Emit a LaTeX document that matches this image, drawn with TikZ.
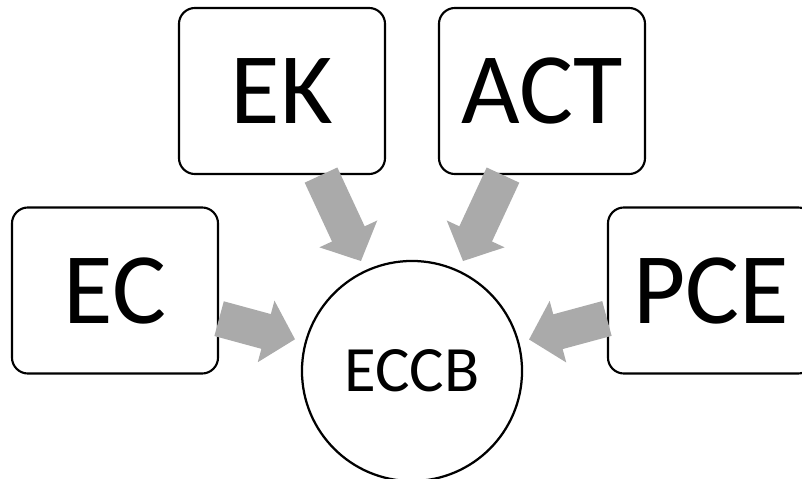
\documentclass[tikz,border=0pt]{standalone}
\usepackage{fontspec}
\setmainfont{Carlito}
\usetikzlibrary{arrows.meta}
\definecolor{arrowgray}{HTML}{AAAAAA}
\tikzset{
  factor/.style={draw, line width=1.5pt, rounded corners=0.4cm, fill=white,
    minimum width=5.15cm, minimum height=4.15cm, font=\fontsize{72}{72}\selectfont},
  hub/.style={draw, line width=1.6pt, circle, inner sep=0pt, fill=white,
    minimum size=5.5cm, font=\fontsize{46}{46}\selectfont},
  flow/.style={draw=arrowgray, line width=0.9cm, shorten >=0.25cm,
    -{Triangle[length=0.75cm, width=1.55cm]}}
}
\begin{document}
\begin{tikzpicture}[x=0.025cm, y=-0.025cm]
\useasboundingbox (0,0) rectangle (802,479);
\node[hub] (eccb) at (412,371){ECCB};
\node[factor] (ek) at (282,91){EK};
\node[factor] (act) at (542,91){ACT};
\node[factor] (ec) at (115,290.5){EC};
\node[factor] (pce) at (711,290.5){PCE};
\draw[flow] (ek) -- (eccb);
\draw[flow] (act) -- (eccb);
\draw[flow] (ec) -- (eccb);
\draw[flow] (pce) -- (eccb);

\end{tikzpicture}
\end{document}
